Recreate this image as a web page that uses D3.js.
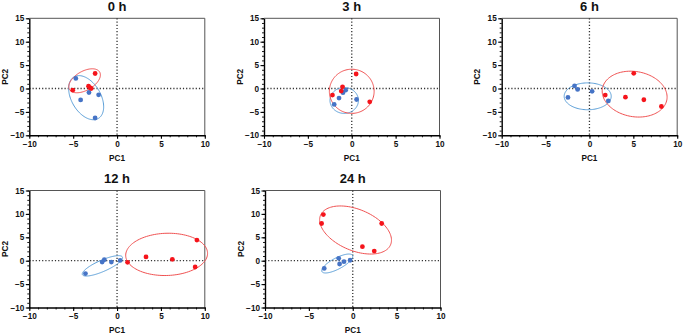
<!DOCTYPE html>
<html>
<head>
<meta charset="utf-8">
<script src="https://cdn.jsdelivr.net/npm/d3@7"></script>
<style>
  body { margin: 0; background: #fff; }
  svg { display: block; }
  text { font-family: "Liberation Sans", Arial, sans-serif; font-weight: bold; }
</style>
</head>
<body>
<svg id="chart" width="685" height="334"></svg>
<script>
// ---- data ----
const titles = ["0 h", "3 h", "6 h", "12 h", "24 h"];
const xTicks = [-10, -5, 0, 5, 10];
const yTicks = [-10, -5, 0, 5, 10, 15];
const xLabel = "PC1";
const yLabel = "PC2";

const redPC1 = [
  [-2.5, -5.05, -3.25, -2.95, -3.1],
  [0.5, -1.05, -1.2, -2.2, 2.05],
  [5.05, 1.8, 4.1, 6.2, 8.2],
  [1.2, 3.3, 6.3, 9.1, 8.9],
  [-3.35, -3.55, 3.3, 1.1, 2.45]
];
const redPC2 = [
  [3.2, -0.35, 0.5, 0.0, 0.2],
  [3.1, 0.35, -0.55, -1.4, -2.85],
  [3.25, -1.4, -1.85, -2.4, -3.85],
  [-0.35, 0.8, 0.3, 4.4, -1.35],
  [9.85, 7.95, 7.95, 3.0, 2.05]
];
const bluePC1 = [
  [-4.7, -4.15, -3.2, -2.1, -2.5],
  [-0.7, -1.0, -1.45, -2.0, 0.55],
  [-2.45, -1.7, -1.35, 0.3, 2.15],
  [-3.6, -1.7, -1.45, -0.65, 0.35],
  [-3.25, -1.6, -1.5, -1.0, -0.3]
];
const bluePC2 = [
  [2.15, -2.45, -0.85, -1.35, -6.3],
  [-0.35, -0.9, -2.05, -3.4, -2.35],
  [-1.9, 0.55, -0.2, -0.6, -2.65],
  [-2.75, -0.3, 0.2, -0.3, 0.05],
  [-1.65, 0.5, -0.7, -0.2, 0.1]
];
// ellipse: [centerPC1, centerPC2, axis1 dPC1, axis1 dPC2, axis2 dPC1, axis2 dPC2]
const redEllipse = [
  [-3.7, 1.65, 1.72, 1.86, 0.54, -1.76],
  [0.0, -0.6, 2.55, 0.0, 0.0, 4.72],
  [5.15, -1.2, 3.67, -1.21, -0.45, -4.75],
  [5.65, 1.35, 4.66, 0.4, -0.2, 4.5],
  [0.32, 6.56, 3.99, -3.16, -0.92, -4.05]
];
const blueEllipse = [
  [-3.52, -1.96, 1.38, -4.45, -1.44, -1.56],
  [-0.86, -2.55, 1.62, 0.0, 0.0, 2.77],
  [-0.2, -1.67, 2.68, 0.0, 0.0, 2.87],
  [-1.67, -1.1, 2.28, 1.88, 0.26, -1.1],
  [-1.77, -0.6, 1.74, 1.73, 0.30, -1.05]
];

// ---- layout ----
const svg = d3.select("#chart");
const W = 175.5, H = 117;
const origins = [[29.3, 18.3], [264, 18.3], [501.7, 18.3], [29.3, 190.5], [265, 190.5]];
const redPt = "#f5141b", bluePt = "#4674c6";
const redLine = "#f05252", blueLine = "#5b9fd8";

titles.forEach((title, i) => {
  const [ox, oy] = origins[i];
  const g = svg.append("g").attr("transform", `translate(${ox},${oy})`);
  const x = d3.scaleLinear().domain([-10, 10]).range([0, W]);
  const y = d3.scaleLinear().domain([-10, 15]).range([H, 0]);

  // frame (top/right)
  g.append("path")
    .attr("d", `M0,0H${W}V${H}`)
    .attr("fill", "none").attr("stroke", "#555").attr("stroke-width", 1);

  // zero lines
  g.append("line").attr("x1", x(0)).attr("x2", x(0)).attr("y1", 0).attr("y2", H)
    .attr("stroke", "#333").attr("stroke-width", 1.3).attr("stroke-dasharray", "1.2,2");
  g.append("line").attr("x1", 0).attr("x2", W).attr("y1", y(0)).attr("y2", y(0))
    .attr("stroke", "#333").attr("stroke-width", 1.3).attr("stroke-dasharray", "1.2,2");

  // minor ticks
  g.append("g").attr("transform", `translate(0,${H})`)
    .call(d3.axisBottom(x).tickValues(d3.range(-10, 11)).tickSize(2).tickFormat(""))
    .call(a => a.select(".domain").remove())
    .selectAll("line").attr("stroke-width", 0.9);
  g.append("g")
    .call(d3.axisLeft(y).tickValues(d3.range(-10, 16)).tickSize(2).tickFormat(""))
    .call(a => a.select(".domain").remove())
    .selectAll("line").attr("stroke-width", 0.9);

  // major axes
  const xa = g.append("g").attr("transform", `translate(0,${H})`)
    .call(d3.axisBottom(x).tickValues(xTicks).tickSize(3.5).tickSizeOuter(0).tickPadding(2));
  const ya = g.append("g")
    .call(d3.axisLeft(y).tickValues(yTicks).tickSize(3.5).tickSizeOuter(0).tickPadding(1.5));
  [xa, ya].forEach(a => {
    a.select(".domain").attr("stroke-width", 1.4);
    a.selectAll(".tick line").attr("stroke-width", 1.1);
    a.selectAll("text").attr("font-size", 8.2).attr("fill", "#111")
      .style("font-family", '"Liberation Sans", Arial, sans-serif').style("font-weight", "bold");
  });

  // ellipses
  const line = d3.line().x(d => x(d[0])).y(d => y(d[1])).curve(d3.curveLinearClosed);
  const angles = d3.range(0, 2 * Math.PI, Math.PI / 60);
  const ell = (e) => angles.map(t => [
    e[0] + e[2] * Math.cos(t) + e[4] * Math.sin(t),
    e[1] + e[3] * Math.cos(t) + e[5] * Math.sin(t)
  ]);
  g.append("path").attr("d", line(ell(blueEllipse[i])))
    .attr("fill", "none").attr("stroke", blueLine).attr("stroke-width", 1);
  g.append("path").attr("d", line(ell(redEllipse[i])))
    .attr("fill", "none").attr("stroke", redLine).attr("stroke-width", 1);

  // points
  g.selectAll(".bp").data(bluePC1[i].map((v, k) => [v, bluePC2[i][k]])).enter()
    .append("circle").attr("cx", d => x(d[0])).attr("cy", d => y(d[1])).attr("r", 2.4)
    .attr("fill", bluePt);
  g.selectAll(".rp").data(redPC1[i].map((v, k) => [v, redPC2[i][k]])).enter()
    .append("circle").attr("cx", d => x(d[0])).attr("cy", d => y(d[1])).attr("r", 2.4)
    .attr("fill", redPt);

  // labels
  g.append("text").attr("x", W / 2).attr("y", -7.5).attr("text-anchor", "middle")
    .attr("font-size", 13).attr("fill", "#111").text(title);
  g.append("text").attr("x", W / 2).attr("y", H + 25.5).attr("text-anchor", "middle")
    .attr("font-size", 8.2).attr("fill", "#111").text(xLabel);
  g.append("text").attr("transform", `translate(-21.5,${H / 2}) rotate(-90)`)
    .attr("text-anchor", "middle").attr("font-size", 8.2).attr("fill", "#111").text(yLabel);
});
</script>
</body>
</html>
